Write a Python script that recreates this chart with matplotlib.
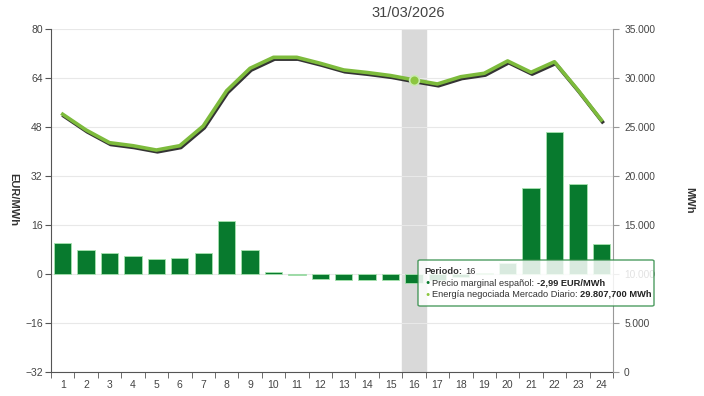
import matplotlib
matplotlib.use('Agg')
import matplotlib.pyplot as plt
import matplotlib.patheffects as pe
from matplotlib.patches import FancyBboxPatch
from matplotlib.ticker import FuncFormatter

plt.rcParams['font.family'] = ['Liberation Sans', 'DejaVu Sans']

periodos = list(range(1, 25))
precio = [10.2, 7.7, 6.8, 5.8, 5.0, 5.2, 7.0, 17.3, 7.9, 0.7, -0.3, -1.7,
          -2.0, -2.0, -2.0, -2.99, -2.0, -0.9, 0.3, 3.6, 28.2, 46.5, 29.3, 9.7]
energia = [26300, 24690, 23400, 23090, 22650, 23090, 25100, 28700, 30990, 32110,
           32110, 31500, 30820, 30560, 30250, 29807.7, 29390, 30130, 30480, 31740,
           30580, 31660, 28780, 25710]
fecha = '31/03/2026'
sel = 16

W, H = 704, 396


def fx(x):
    return x / W


def fy(y):
    return 1 - y / H


fig = plt.figure(figsize=(7.04, 3.96), dpi=100)
ax = fig.add_axes([fx(51), fy(372), fx(613) - fx(51), fy(29) - fy(372)])
ax2 = ax.twinx()

# highlighted period
ax.axvspan(sel - 0.5, sel + 0.5, color='#d9d9d9', zorder=0)

ax.bar(periodos, precio, width=0.74, color='#087a2e', edgecolor='#a6e3ae',
       linewidth=0.6, zorder=3)
ax.set_xlim(0.5, 24.5)
ax.set_ylim(-32, 80)
ax.set_yticks(range(-32, 81, 16))
ax.yaxis.grid(True, color='#e8e8e8', linewidth=0.8, zorder=1)
ax.set_axisbelow(True)
ax.set_xticks(periodos)
ax.set_xticks([p + 0.5 for p in range(0, 25)], minor=True)
ax.tick_params(axis='x', which='major', length=0, labelsize=7.5, colors='#444', pad=6)
ax.tick_params(axis='x', which='minor', length=4, color='#555')
ax.tick_params(axis='y', length=4, labelsize=7.5, colors='#444', pad=2, color='#555')
ax.spines['top'].set_visible(False)
ax.spines['right'].set_visible(False)
ax.spines['left'].set_color('#555')
ax.spines['bottom'].set_color('#555')

ax2.plot(periodos, energia, color='#7dbb3c', linewidth=2.6, zorder=4,
         path_effects=[pe.SimpleLineShadow(offset=(0.8, -1.3), shadow_color='#1e1e1e', alpha=0.9),
                       pe.Normal()])
ax2.plot([sel], [energia[sel - 1]], 'o', markersize=7, color='#8cc63f',
         markeredgecolor='#c9eab0', markeredgewidth=1.2, zorder=5)
ax2.set_ylim(0, 35000)
ax2.set_yticks(range(0, 35001, 5000))
ax2.yaxis.set_major_formatter(FuncFormatter(lambda v, p: '0' if v == 0 else f'{int(v):,}'.replace(',', '.')))
ax2.tick_params(axis='y', length=4, labelsize=7.3, colors='#444', pad=4, color='#999')
ax2.spines['top'].set_visible(False)
ax2.spines['left'].set_visible(False)
ax2.spines['bottom'].set_visible(False)
ax2.spines['right'].set_color('#999')

fig.text(fx(13), fy(200), 'EUR/MWh', rotation=-90, ha='center', va='center',
         fontsize=8, fontweight='bold', color='#333')
fig.text(fx(689), fy(200), 'MWh', rotation=-90, ha='center', va='center',
         fontsize=8, fontweight='bold', color='#333')
fig.text(fx(408), fy(13), fecha, ha='center', va='center', fontsize=10.5, color='#444')

# tooltip
box = FancyBboxPatch((fx(418), fy(306)), fx(654) - fx(418), fy(260) - fy(306),
                     boxstyle='round,pad=0,rounding_size=0.003', transform=fig.transFigure,
                     facecolor='white', alpha=0.85, edgecolor='#2e8b45', linewidth=1, zorder=10)
fig.add_artist(box)

fs = 6.7
fig.canvas.draw()
r = fig.canvas.get_renderer()


def two_part(x, y, a, b):
    t = fig.text(fx(x), fy(y), a, fontsize=fs, color='#333', va='center', zorder=11)
    ext = t.get_window_extent(renderer=r)
    fig.text(ext.x1 / W + 0.004, fy(y), b, fontsize=fs, color='#222', va='center',
             fontweight='bold', zorder=11)


t0 = fig.text(fx(424), fy(271.5), 'Periodo:', fontsize=fs, color='#333', va='center',
              fontweight='bold', zorder=11)
e0 = t0.get_window_extent(renderer=r)
fig.text(e0.x1 / W + 0.004, fy(271.5), str(sel), fontsize=fs, color='#333', va='center', zorder=11)

fig.text(fx(425), fy(283), '\u25cf', fontsize=5, color='#087a2e', va='center', zorder=11)
two_part(432, 283, 'Precio marginal español:', '-2,99 EUR/MWh')
fig.text(fx(425), fy(294.5), '\u25cf', fontsize=5, color='#8cc63f', va='center', zorder=11)
two_part(432, 294.5, 'Energía negociada Mercado Diario:', '29.807,700 MWh')

fig.savefig('out.png', dpi=100)
